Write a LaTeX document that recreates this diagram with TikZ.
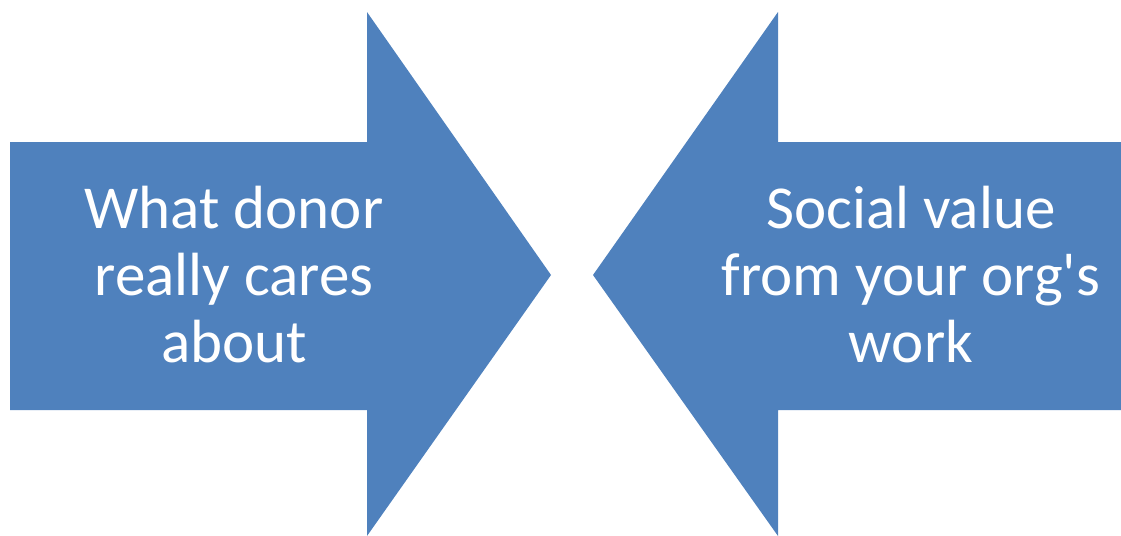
\documentclass[tikz,border=0pt]{standalone}
\usepackage{fontspec}
\setmainfont{Carlito}
\usetikzlibrary{positioning}
\definecolor{azul}{HTML}{4F81BD}

\begin{document}
\begin{tikzpicture}[x=0.5pt, y=-0.5pt,
  flecha/.style={fill=azul, draw=none},
  etiqueta/.style={text=white, align=center, inner sep=0pt,
    font=\fontsize{30.5}{33.5}\selectfont}
]
  \useasboundingbox (0,0) rectangle (1121,536);
  % left arrow, pointing right
  \fill[flecha] (10,142) -- (367,142) -- (367,12) -- (551,275)
    -- (367,536) -- (367,410) -- (10,410) -- cycle;
  % right arrow, pointing left
  \fill[flecha] (1121,142) -- (778,142) -- (778,12) -- (593,275)
    -- (778,536) -- (778,410) -- (1121,410) -- cycle;
  \node[etiqueta] (donor) at (234,275) {What donor\\really cares\\about};
  \node[etiqueta] (valor) at (911,275) {Social value\\from your org\textquotesingle s\\work};
\end{tikzpicture}
\end{document}
